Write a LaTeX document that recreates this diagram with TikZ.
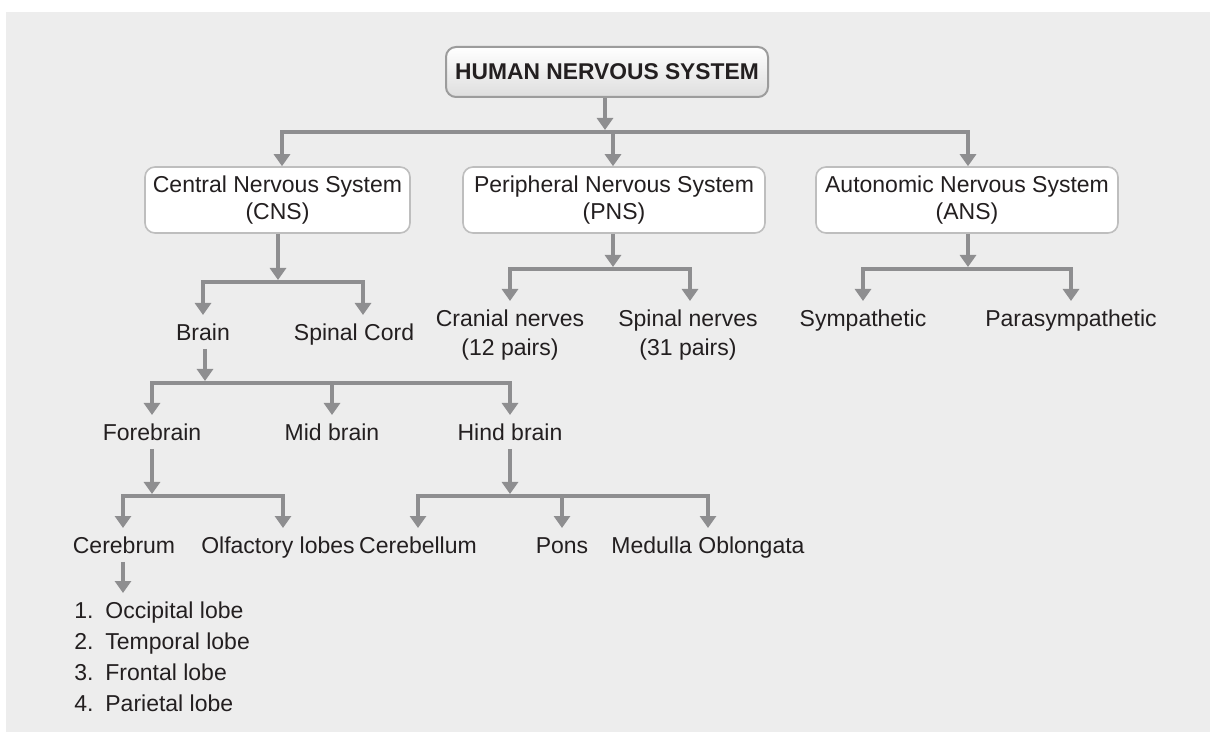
\documentclass[tikz,border=0pt]{standalone}
\usepackage{fontspec}
\setmainfont{Liberation Sans}
\usetikzlibrary{arrows.meta}
\definecolor{bg}{HTML}{EDEDED}
\definecolor{ink}{HTML}{231F20}
\definecolor{conn}{HTML}{8E8E90}
\definecolor{boxline}{HTML}{BEBEBE}
\definecolor{titleline}{HTML}{9C9C9C}
\begin{document}
\begin{tikzpicture}[x=0.5pt,y=-0.5pt,
  every node/.style={text=ink},
  termbase/.style={font=\fontsize{11.5}{14.5}\selectfont, inner xsep=0pt, inner ysep=4pt,
    anchor=north},
  term/.style={termbase, text height=8.5pt, text depth=0pt},
  catbox/.style={draw=boxline, line width=0.8pt, fill=white, rounded corners=5pt,
    minimum height=33pt, inner sep=0pt, align=center,
    font=\fontsize{11.5}{13.5}\selectfont},
  titlebox/.style={draw=titleline, line width=1pt, top color=white, bottom color=black!13,
    rounded corners=5pt, minimum width=161pt, minimum height=25pt, inner sep=0pt,
    font=\fontsize{11.4}{13}\selectfont\bfseries},
  wire/.style={draw=conn, line width=2pt},
  arr/.style={wire, -{Triangle[length=6pt,width=8pt]}},
  feed/.style={arr, shorten >=1pt}
]
\useasboundingbox (0,0) rectangle (1210,732);
\fill[bg] (6,12) rectangle (1210,732);

% top level and the three divisions
\node[titlebox] (hns) at (607,72) {HUMAN NERVOUS SYSTEM};
\node[catbox, minimum width=132.5pt] (cns) at (277.5,200) {Central Nervous System\\(CNS)};
\node[catbox, minimum width=151pt] (pns) at (614,200) {Peripheral Nervous System\\(PNS)};
\node[catbox, minimum width=151pt] (ans) at (967,200) {Autonomic Nervous System\\(ANS)};

% second level
\node[term] (brain) at (203,315) {Brain};
\node[term] (spinal) at (354,315) {Spinal Cord};
\node[termbase, align=center] (cranial) at (510,301) {Cranial nerves\\(12 pairs)};
\node[termbase, align=center] (spinaln) at (688,301) {Spinal nerves\\(31 pairs)};
\node[term] (symp) at (863,301) {Sympathetic};
\node[term] (para) at (1071,301) {Parasympathetic};

% parts of the brain
\node[term] (fore) at (152,415) {Forebrain};
\node[term] (mid) at (332,415) {Mid brain};
\node[term] (hind) at (510,415) {Hind brain};

\node[term] (cerebrum) at (124,528) {Cerebrum};
\node[term] (olf) at (278,528) {Olfactory lobes};
\node[term] (cerebellum) at (418,528) {Cerebellum};
\node[term] (pons) at (562,528) {Pons};
\node[term] (medulla) at (708,528) {Medulla Oblongata};

\node[termbase, anchor=north west, align=left, font=\fontsize{11.5}{15.5}\selectfont]
  (lobes) at (74,593)
  {\makebox[15.5pt][l]{1.}Occipital lobe\\
   \makebox[15.5pt][l]{2.}Temporal lobe\\
   \makebox[15.5pt][l]{3.}Frontal lobe\\
   \makebox[15.5pt][l]{4.}Parietal lobe};

% junctions and drop points on the bars
\coordinate (j0) at (605,132);
\coordinate (d0a) at (282,132);
\coordinate (d0b) at (613,132);
\coordinate (d0c) at (968,132);

\coordinate (j1) at (278,282);
\coordinate (d1a) at (203,282);
\coordinate (d1b) at (363,282);

\coordinate (j2) at (613,269);
\coordinate (d2a) at (510,269);
\coordinate (d2b) at (690,269);

\coordinate (j3) at (968,269);
\coordinate (d3a) at (863,269);
\coordinate (d3b) at (1071,269);

\coordinate (j4) at (205,383);
\coordinate (d4a) at (152,383);
\coordinate (d4b) at (332,383);
\coordinate (d4c) at (510,383);

\coordinate (j5) at (152,496);
\coordinate (d5a) at (123,496);
\coordinate (d5b) at (283,496);

\coordinate (j6) at (510,496);
\coordinate (d6a) at (418,496);
\coordinate (d6b) at (562,496);
\coordinate (d6c) at (708,496);

% connectors
\draw[feed] (hns.south -| j0) -- (j0);
\draw[arr] (j0) -| (d0a |- cns.north);
\draw[arr] (j0) -| (d0c |- ans.north);
\draw[arr] (d0b) -- (d0b |- pns.north);

\draw[feed] (cns.south -| j1) -- (j1);
\draw[arr] (j1) -| (d1a |- brain.north);
\draw[arr] (j1) -| (d1b |- spinal.north);

\draw[feed] (pns.south -| j2) -- (j2);
\draw[arr] (j2) -| (d2a |- cranial.north);
\draw[arr] (j2) -| (d2b |- spinaln.north);

\draw[feed] (ans.south -| j3) -- (j3);
\draw[arr] (j3) -| (d3a |- symp.north);
\draw[arr] (j3) -| (d3b |- para.north);

\draw[feed] (brain.south -| j4) -- (j4);
\draw[arr] (j4) -| (d4a |- fore.north);
\draw[arr] (j4) -| (d4c |- hind.north);
\draw[arr] (d4b) -- (d4b |- mid.north);

\draw[feed] (fore.south -| j5) -- (j5);
\draw[arr] (j5) -| (d5a |- cerebrum.north);
\draw[arr] (j5) -| (d5b |- olf.north);

\draw[feed] (hind.south -| j6) -- (j6);
\draw[arr] (j6) -| (d6a |- cerebellum.north);
\draw[arr] (j6) -| (d6c |- medulla.north);
\draw[arr] (d6b) -- (d6b |- pons.north);

\draw[arr] (cerebrum.south -| d5a) -- (d5a |- lobes.north);
\end{tikzpicture}
\end{document}
